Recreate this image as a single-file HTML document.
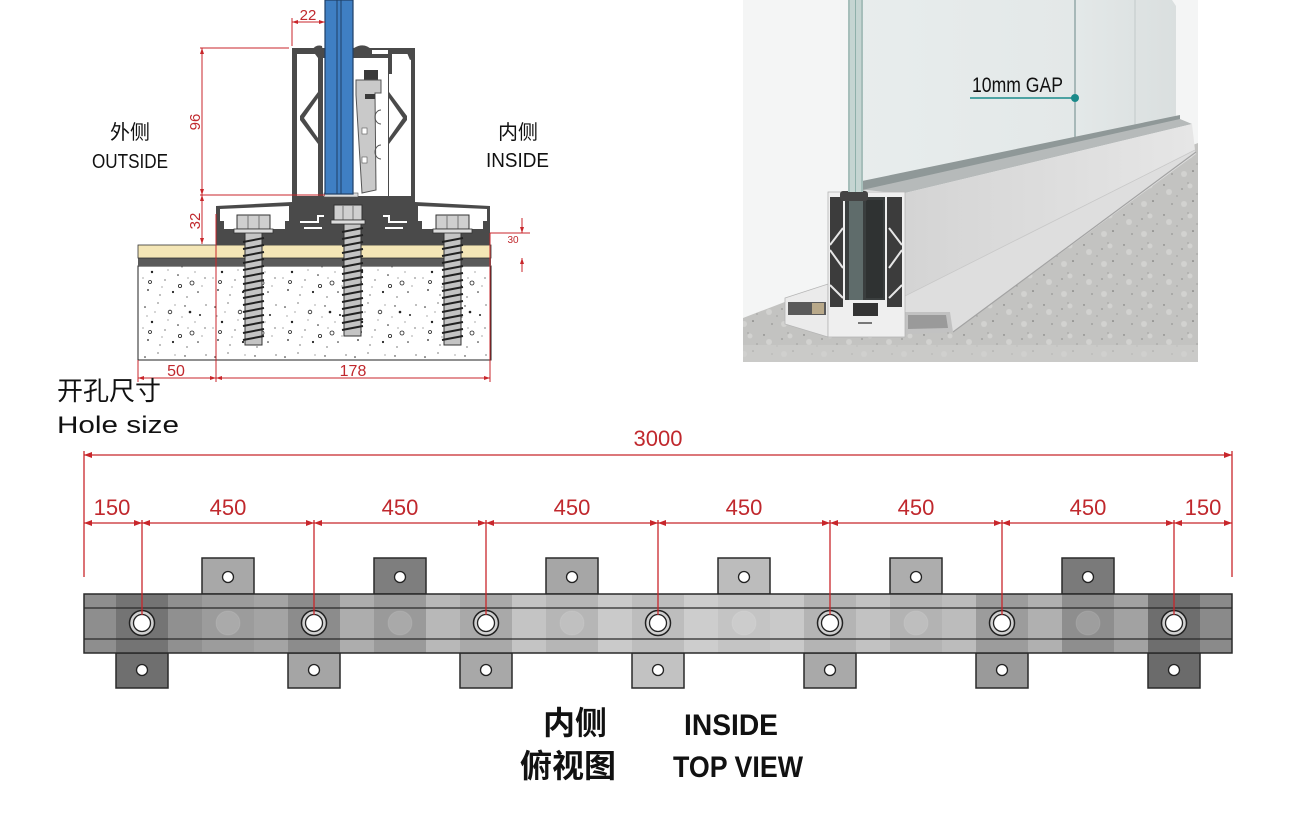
<!DOCTYPE html>
<html><head><meta charset="utf-8">
<style>
html,body{margin:0;padding:0;background:#fff;}
svg{display:block;}
</style></head>
<body>
<svg width="1305" height="816" viewBox="0 0 1305 816" xmlns="http://www.w3.org/2000/svg">
<defs>
  <pattern id="conc" width="70" height="50" patternUnits="userSpaceOnUse">
    <rect width="70" height="50" fill="#fff"/>
    <g fill="#222">
      <circle cx="5" cy="7" r="0.8"/><circle cx="18" cy="3" r="0.6"/><circle cx="45" cy="6" r="0.7"/>
      <circle cx="60" cy="15" r="1"/><circle cx="12" cy="22" r="1.2"/><circle cx="25" cy="30" r="0.6"/>
      <circle cx="38" cy="25" r="0.8"/><circle cx="65" cy="28" r="0.6"/><circle cx="8" cy="40" r="0.9"/>
      <circle cx="20" cy="45" r="0.6"/><circle cx="33" cy="42" r="1.1"/><circle cx="47" cy="47" r="0.6"/>
      <circle cx="58" cy="42" r="0.8"/><circle cx="3" cy="28" r="0.5"/><circle cx="42" cy="17" r="0.5"/>
      <circle cx="28" cy="20" r="0.5"/><circle cx="15" cy="12" r="0.5"/><circle cx="66" cy="5" r="0.6"/>
      <circle cx="55" cy="22" r="0.5"/><circle cx="50" cy="12" r="1.3"/>
      <circle cx="22" cy="37" r="0.5"/><circle cx="62" cy="36" r="0.5"/><circle cx="35" cy="5" r="0.5"/>
      <circle cx="7" cy="16" r="0.5"/><circle cx="48" cy="28" r="0.5"/>
    </g>
    <g fill="none" stroke="#222" stroke-width="0.8">
      <circle cx="30" cy="12" r="1.8"/><circle cx="52" cy="33" r="2"/><circle cx="10" cy="32" r="1.5"/><circle cx="40" cy="36" r="1.6"/>
    </g>
  </pattern>
  <pattern id="floor" width="40" height="30" patternUnits="userSpaceOnUse">
    <rect width="40" height="30" fill="#c3c3c1"/>
    <g fill="#d2d2d0">
      <circle cx="9" cy="12" r="3"/><circle cx="30" cy="6" r="2.5"/><circle cx="24" cy="24" r="3"/>
    </g>
    <g fill="#6e6e6c">
      <circle cx="4" cy="5" r="0.7"/><circle cx="22" cy="9" r="0.6"/><circle cx="33" cy="21" r="0.8"/>
      <circle cx="12" cy="24" r="0.6"/><circle cx="28" cy="3" r="0.5"/><circle cx="17" cy="16" r="0.5"/>
      <circle cx="37" cy="14" r="0.5"/>
    </g>
  </pattern>
  <linearGradient id="sideG" x1="0" y1="0" x2="1" y2="0">
    <stop offset="0" stop-color="#d4d4d4"/><stop offset="1" stop-color="#e6e6e6"/>
  </linearGradient>
  <linearGradient id="glassG" x1="0" y1="0" x2="1" y2="0">
    <stop offset="0" stop-color="#e8eded"/><stop offset="0.7" stop-color="#e3e8e8"/><stop offset="1" stop-color="#dadfdf"/>
  </linearGradient>
  <marker id="ar" viewBox="0 0 8 6" refX="8" refY="3" markerWidth="8" markerHeight="6" markerUnits="userSpaceOnUse" orient="auto-start-reverse">
    <path d="M0,0 L8,3 L0,6 z" fill="#c8262b"/>
  </marker>
  <marker id="as" viewBox="0 0 6 4" refX="6" refY="2" markerWidth="6" markerHeight="4" markerUnits="userSpaceOnUse" orient="auto-start-reverse">
    <path d="M0,0 L6,2 L0,4 z" fill="#c8262b"/>
  </marker>
</defs>

<rect width="1305" height="816" fill="#fff"/>

<!-- ================= TOP LEFT SECTION ================= -->
<g id="section">
  <rect x="138" y="266" width="353" height="94" fill="url(#conc)" stroke="#222" stroke-width="1"/>
  <rect x="138" y="258" width="353" height="8" fill="#5a5a5a"/>
  <rect x="138" y="245" width="353" height="13" fill="#f4e6b6" stroke="#333" stroke-width="0.8"/>

  <rect x="216" y="228" width="274" height="17" fill="#4a4a4a"/>
  <path d="M216,245 L216,206 L292,202 L292,245 Z" fill="#4a4a4a"/>
  <path d="M220,209 L289,206 L289,229 L220,229 Z" fill="#fff"/>
  <rect x="220" y="221" width="4" height="8" fill="#4a4a4a"/>
  <rect x="285" y="221" width="4" height="8" fill="#4a4a4a"/>
  <path d="M415,202 L490,206 L490,245 L415,245 Z" fill="#4a4a4a"/>
  <path d="M418,206 L487,209 L487,229 L418,229 Z" fill="#fff"/>
  <rect x="418" y="221" width="4" height="8" fill="#4a4a4a"/>
  <rect x="483" y="221" width="4" height="8" fill="#4a4a4a"/>

  <rect x="292" y="48" width="123" height="197" fill="#4a4a4a"/>
  <path d="M297,54 L318,54 L318,92 L300,116 L300,120 L318,144 L318,196 L297,196 Z" fill="#fff"/>
  <path d="M318,98 L318,138 L304,118 Z" fill="#fff"/>
  <path d="M389,54 L411,54 L411,196 L389,196 L389,144 L407,120 L407,116 L389,92 Z" fill="#fff"/>
  <path d="M389,98 L389,138 L403,118 Z" fill="#fff"/>
  <rect x="323" y="58" width="65" height="138" fill="#fff"/>
  <path d="M322,46 Q316,44 312,50 L318,58 L324,58 Z" fill="#4a4a4a"/>
  <path d="M354,48 Q364,42 372,50 L368,58 L354,58 Z" fill="#4a4a4a"/>
  <rect x="372" y="50" width="16" height="4" fill="#fff"/>
  <path d="M405,48 L415,48 L415,58 L410,60 Z" fill="#4a4a4a"/>
  <rect x="388" y="52" width="4" height="22" fill="#4a4a4a"/>
  <rect x="364" y="70" width="14" height="10" fill="#3a3a3a"/>
  <path d="M356,80 L381,80 L381,93 L375,93 L376,190 L362,193 L356,95 Z" fill="#c9c9c9" stroke="#555" stroke-width="1"/>
  <rect x="365" y="94" width="10" height="5" fill="#3a3a3a"/>
  <rect x="362" y="128" width="5" height="6" fill="#fff" stroke="#555" stroke-width="0.6"/>
  <rect x="362" y="157" width="5" height="6" fill="#fff" stroke="#555" stroke-width="0.6"/>
  <path d="M381,110 A6,7 0 0 0 381,124" fill="none" stroke="#555" stroke-width="1"/>
  <path d="M381,145 A6,7 0 0 0 381,159" fill="none" stroke="#555" stroke-width="1"/>
  <rect x="324" y="193" width="34" height="4" fill="#ddd" stroke="#555" stroke-width="0.6"/>
  <rect x="325" y="0" width="28" height="194" fill="#3f7fc3" stroke="#1f3f66" stroke-width="1.2"/>
  <line x1="337" y1="0" x2="337" y2="194" stroke="#1f3f66" stroke-width="1"/>
  <line x1="341" y1="0" x2="341" y2="194" stroke="#1f3f66" stroke-width="1"/>
  <path d="M300,222 L318,222 L318,216 L324,216 M304,228 L322,228" stroke="#fff" stroke-width="2" fill="none"/>
  <path d="M407,222 L389,222 L389,216 L383,216 M403,228 L385,228" stroke="#fff" stroke-width="2" fill="none"/>

  <!-- screws -->
  <rect x="245" y="232" width="17" height="113" fill="#c4c4c4" stroke="#333" stroke-width="1"/>
  <path d="M243,242 l21,-4 M243,249 l21,-4 M243,256 l21,-4 M243,263 l21,-4 M243,270 l21,-4 M243,277 l21,-4 M243,284 l21,-4 M243,291 l21,-4 M243,298 l21,-4 M243,305 l21,-4 M243,312 l21,-4 M243,319 l21,-4 M243,326 l21,-4 M243,333 l21,-4 M243,340 l21,-4" stroke="#222" stroke-width="2"/>
  <rect x="237" y="215" width="33" height="14" fill="#cfcfcf" stroke="#333" stroke-width="1"/>
  <line x1="248" y1="215" x2="248" y2="229" stroke="#777"/><line x1="259" y1="215" x2="259" y2="229" stroke="#777"/>
  <rect x="234" y="229" width="39" height="4" fill="#ddd" stroke="#333" stroke-width="0.8"/>
  <rect x="344" y="224" width="17" height="112" fill="#c4c4c4" stroke="#333" stroke-width="1"/>
  <path d="M342,232 l21,-4 M342,239 l21,-4 M342,246 l21,-4 M342,253 l21,-4 M342,260 l21,-4 M342,267 l21,-4 M342,274 l21,-4 M342,281 l21,-4 M342,288 l21,-4 M342,295 l21,-4 M342,302 l21,-4 M342,309 l21,-4 M342,316 l21,-4 M342,323 l21,-4 M342,330 l21,-4" stroke="#222" stroke-width="2"/>
  <rect x="334" y="205" width="28" height="15" fill="#cfcfcf" stroke="#333" stroke-width="1"/>
  <line x1="343" y1="205" x2="343" y2="220" stroke="#777"/><line x1="353" y1="205" x2="353" y2="220" stroke="#777"/>
  <rect x="331" y="220" width="34" height="4" fill="#ddd" stroke="#333" stroke-width="0.8"/>
  <rect x="444" y="232" width="17" height="113" fill="#c4c4c4" stroke="#333" stroke-width="1"/>
  <path d="M442,242 l21,-4 M442,249 l21,-4 M442,256 l21,-4 M442,263 l21,-4 M442,270 l21,-4 M442,277 l21,-4 M442,284 l21,-4 M442,291 l21,-4 M442,298 l21,-4 M442,305 l21,-4 M442,312 l21,-4 M442,319 l21,-4 M442,326 l21,-4 M442,333 l21,-4 M442,340 l21,-4" stroke="#222" stroke-width="2"/>
  <rect x="436" y="215" width="33" height="14" fill="#cfcfcf" stroke="#333" stroke-width="1"/>
  <line x1="447" y1="215" x2="447" y2="229" stroke="#777"/><line x1="458" y1="215" x2="458" y2="229" stroke="#777"/>
  <rect x="433" y="229" width="39" height="4" fill="#ddd" stroke="#333" stroke-width="0.8"/>

  <g stroke="#c8262b" stroke-width="1" fill="none">
    <line x1="292" y1="18" x2="292" y2="46"/>
    <line x1="292" y1="22" x2="325" y2="22" marker-start="url(#as)" marker-end="url(#as)"/>
    <line x1="200" y1="48" x2="289" y2="48"/>
    <line x1="200" y1="195" x2="325" y2="195"/>
    <line x1="202" y1="48" x2="202" y2="195" marker-start="url(#as)" marker-end="url(#as)"/>
    <line x1="202" y1="195" x2="202" y2="244" marker-start="url(#as)" marker-end="url(#as)"/>
    <line x1="490" y1="233" x2="530" y2="233"/>
    <line x1="522" y1="218" x2="522" y2="233" marker-end="url(#as)"/>
    <line x1="522" y1="272" x2="522" y2="258" marker-end="url(#as)"/>
    <line x1="138" y1="360" x2="138" y2="382"/>
    <line x1="216" y1="214" x2="216" y2="382"/>
    <line x1="490" y1="233" x2="490" y2="382"/>
    <line x1="138" y1="378" x2="216" y2="378" marker-start="url(#as)" marker-end="url(#as)"/>
    <line x1="216" y1="378" x2="490" y2="378" marker-start="url(#as)" marker-end="url(#as)"/>
  </g>
  <g fill="#c0282d" font-family="Liberation Sans, sans-serif">
    <text x="308" y="20" font-size="15" text-anchor="middle">22</text>
    <text transform="translate(200,122) rotate(-90)" font-size="15" text-anchor="middle">96</text>
    <text transform="translate(200,221) rotate(-90)" font-size="15" text-anchor="middle">32</text>
    <text x="513" y="243" font-size="10" text-anchor="middle">30</text>
    <text x="176" y="376" font-size="16" text-anchor="middle">50</text>
    <text x="353" y="376" font-size="16" text-anchor="middle">178</text>
  </g>

  <g fill="#111">
    <text x="130" y="139" font-size="20" text-anchor="middle" font-family="'Noto Sans CJK SC', sans-serif">外侧</text>
    <text x="92" y="168" font-size="20" textLength="76" lengthAdjust="spacingAndGlyphs" font-family="'Liberation Sans', sans-serif">OUTSIDE</text>
    <text x="518" y="139" font-size="20" text-anchor="middle" font-family="'Noto Sans CJK SC', sans-serif">内侧</text>
    <text x="486" y="167" font-size="20" textLength="63" lengthAdjust="spacingAndGlyphs" font-family="'Liberation Sans', sans-serif">INSIDE</text>
    <text x="57" y="400" font-size="26" font-family="'Noto Sans CJK SC', sans-serif">开孔尺寸</text>
    <text x="57" y="433" font-size="24" textLength="122" lengthAdjust="spacingAndGlyphs" font-family="'Liberation Sans', sans-serif">Hole size</text>
  </g>
</g>

<!-- ================= TOP RIGHT RENDER ================= -->
<g id="render">
  <rect x="743" y="0" width="455" height="362" fill="#f4f5f5"/>
  <polygon points="743,318 1198,143 1198,362 743,362" fill="url(#floor)"/>
  <rect x="743" y="345" width="455" height="17" fill="#cfcfcd" opacity="0.6"/>
  <polygon points="848,0 1172,0 1176,6 1176,120 862,190 848,190" fill="url(#glassG)"/>
  <line x1="1075" y1="0" x2="1075" y2="150" stroke="#6b8888" stroke-width="1"/>
  <line x1="1135" y1="0" x2="1135" y2="132" stroke="#c3c9c9" stroke-width="1"/>
  <polygon points="862,181 1180,115 1180,122 862,191" fill="#8f9898"/>
  <polygon points="862,190 905,193 1192,124 1180,119" fill="#b6baba"/>
  <!-- side face -->
  <polygon points="905,193 1192,124 1195,150 905,296" fill="url(#sideG)"/>
  <!-- right base flange top face -->
  <polygon points="905,296 1195,150 1196,154 953,332 905,332" fill="#dedede"/>
  <line x1="953" y1="332" x2="1196" y2="152" stroke="#a3a3a3" stroke-width="1.2"/>
  <line x1="905" y1="296" x2="1195" y2="150" stroke="#c8c8c8" stroke-width="0.8"/>
  <polygon points="905,312 950,312 953,332 905,334" fill="#c2c2c2"/>
  <polygon points="908,315 946,315 948,328 908,329" fill="#9a9a9a"/>
  <!-- front cross section -->
  <polygon points="785,298 828,284 828,337 785,324" fill="#ebebeb" stroke="#b5b5b5" stroke-width="0.8"/>
  <rect x="788" y="302" width="38" height="13" fill="#5a5a5a"/>
  <rect x="812" y="303" width="12" height="11" fill="#b9a98a"/>
  <rect x="828" y="192" width="77" height="145" fill="#efefef" stroke="#b5b5b5" stroke-width="0.8"/>
  <rect x="830" y="197" width="13" height="110" fill="#3c3c3c"/>
  <rect x="887" y="197" width="15" height="110" fill="#3c3c3c"/>
  <g stroke="#e6e6e6" stroke-width="2">
    <line x1="830" y1="245" x2="843" y2="228"/><line x1="830" y1="250" x2="843" y2="268"/>
    <line x1="830" y1="285" x2="843" y2="298"/>
    <line x1="902" y1="245" x2="889" y2="228"/><line x1="902" y1="250" x2="889" y2="268"/>
    <line x1="902" y1="285" x2="889" y2="298"/>
  </g>
  <rect x="845" y="197" width="40" height="103" fill="#3a3e3e"/>
  <rect x="849" y="190" width="14" height="110" fill="#5f6c6b"/>
  <rect x="866" y="200" width="17" height="98" fill="#2f3232"/>
  <rect x="840" y="191" width="28" height="10" rx="3" fill="#444"/>
  <rect x="853" y="303" width="25" height="13" fill="#333"/>
  <rect x="858" y="322" width="14" height="2" fill="#777"/>
  <rect x="848" y="0" width="15" height="192" fill="#c5d5d2"/>
  <line x1="849" y1="0" x2="849" y2="192" stroke="#86a6a1" stroke-width="1"/>
  <line x1="855.5" y1="0" x2="855.5" y2="192" stroke="#8fb0aa" stroke-width="1"/>
  <line x1="862" y1="0" x2="862" y2="192" stroke="#86a6a1" stroke-width="1"/>
  <text x="972" y="92" font-size="21" textLength="91" lengthAdjust="spacingAndGlyphs" fill="#111" font-family="'Liberation Sans', sans-serif">10mm GAP</text>
  <line x1="970" y1="98" x2="1075" y2="98" stroke="#1b8a8a" stroke-width="1.6"/>
  <circle cx="1075" cy="98" r="4" fill="#1b8a8a"/>
</g>

<!-- ================= BOTTOM TOP VIEW ================= -->
<g id="topview">
  <g stroke="#2a2a2a" stroke-width="1.5">
    <rect x="202" y="558" width="52" height="36" fill="#a8a8a8"/>
    <rect x="374" y="558" width="52" height="36" fill="#7e7e7e"/>
    <rect x="546" y="558" width="52" height="36" fill="#a6a6a6"/>
    <rect x="718" y="558" width="52" height="36" fill="#bcbcbc"/>
    <rect x="890" y="558" width="52" height="36" fill="#adadad"/>
    <rect x="1062" y="558" width="52" height="36" fill="#7a7a7a"/>
    <rect x="116" y="653" width="52" height="35" fill="#6f6f6f"/>
    <rect x="288" y="653" width="52" height="35" fill="#a5a5a5"/>
    <rect x="460" y="653" width="52" height="35" fill="#a8a8a8"/>
    <rect x="632" y="653" width="52" height="35" fill="#c2c2c2"/>
    <rect x="804" y="653" width="52" height="35" fill="#a9a9a9"/>
    <rect x="976" y="653" width="52" height="35" fill="#9a9a9a"/>
    <rect x="1148" y="653" width="52" height="35" fill="#6b6b6b"/>
  </g>
  <g>
    <rect x="84" y="594" width="32" height="59" fill="#8e8e8e"/>
    <rect x="116" y="594" width="52" height="59" fill="#747474"/>
    <rect x="168" y="594" width="34" height="59" fill="#909090"/>
    <rect x="202" y="594" width="52" height="59" fill="#9c9c9c"/>
    <rect x="254" y="594" width="34" height="59" fill="#a4a4a4"/>
    <rect x="288" y="594" width="52" height="59" fill="#8c8c8c"/>
    <rect x="340" y="594" width="34" height="59" fill="#adadad"/>
    <rect x="374" y="594" width="52" height="59" fill="#9a9a9a"/>
    <rect x="426" y="594" width="34" height="59" fill="#b8b8b8"/>
    <rect x="460" y="594" width="52" height="59" fill="#a9a9a9"/>
    <rect x="512" y="594" width="34" height="59" fill="#c4c4c4"/>
    <rect x="546" y="594" width="52" height="59" fill="#b6b6b6"/>
    <rect x="598" y="594" width="34" height="59" fill="#cacaca"/>
    <rect x="632" y="594" width="52" height="59" fill="#bdbdbd"/>
    <rect x="684" y="594" width="34" height="59" fill="#cdcdcd"/>
    <rect x="718" y="594" width="52" height="59" fill="#c4c4c4"/>
    <rect x="770" y="594" width="34" height="59" fill="#c9c9c9"/>
    <rect x="804" y="594" width="52" height="59" fill="#b4b4b4"/>
    <rect x="856" y="594" width="34" height="59" fill="#c2c2c2"/>
    <rect x="890" y="594" width="52" height="59" fill="#b3b3b3"/>
    <rect x="942" y="594" width="34" height="59" fill="#bcbcbc"/>
    <rect x="976" y="594" width="52" height="59" fill="#9c9c9c"/>
    <rect x="1028" y="594" width="34" height="59" fill="#b0b0b0"/>
    <rect x="1062" y="594" width="52" height="59" fill="#8e8e8e"/>
    <rect x="1114" y="594" width="34" height="59" fill="#a2a2a2"/>
    <rect x="1148" y="594" width="52" height="59" fill="#6e6e6e"/>
    <rect x="1200" y="594" width="32" height="59" fill="#8a8a8a"/>
  </g>
  <rect x="84" y="594" width="1148" height="59" fill="none" stroke="#2a2a2a" stroke-width="1.5"/>
  <line x1="84" y1="608" x2="1232" y2="608" stroke="#2a2a2a" stroke-width="1.3"/>
  <line x1="84" y1="639" x2="1232" y2="639" stroke="#2a2a2a" stroke-width="1.3"/>
  <g fill="#ffffff" fill-opacity="0.15" stroke="#ffffff" stroke-opacity="0.1">
    <circle cx="228" cy="623" r="12"/><circle cx="400" cy="623" r="12"/><circle cx="572" cy="623" r="12"/>
    <circle cx="744" cy="623" r="12"/><circle cx="916" cy="623" r="12"/><circle cx="1088" cy="623" r="12"/>
  </g>
  <g fill="#fff" stroke="#222" stroke-width="1.3">
    <circle cx="228" cy="577" r="5.5"/><circle cx="400" cy="577" r="5.5"/><circle cx="572" cy="577" r="5.5"/>
    <circle cx="744" cy="577" r="5.5"/><circle cx="916" cy="577" r="5.5"/><circle cx="1088" cy="577" r="5.5"/>
    <circle cx="142" cy="670" r="5.5"/><circle cx="314" cy="670" r="5.5"/><circle cx="486" cy="670" r="5.5"/>
    <circle cx="658" cy="670" r="5.5"/><circle cx="830" cy="670" r="5.5"/><circle cx="1002" cy="670" r="5.5"/>
    <circle cx="1174" cy="670" r="5.5"/>
  </g>
  <g stroke="#222">
    <g fill="#d0d0d0" stroke-width="1.5">
      <circle cx="142" cy="623" r="12.5"/><circle cx="314" cy="623" r="12.5"/><circle cx="486" cy="623" r="12.5"/>
      <circle cx="658" cy="623" r="12.5"/><circle cx="830" cy="623" r="12.5"/><circle cx="1002" cy="623" r="12.5"/>
      <circle cx="1174" cy="623" r="12.5"/>
    </g>
    <g fill="#fff" stroke-width="1.3">
      <circle cx="142" cy="623" r="8.5"/><circle cx="314" cy="623" r="8.5"/><circle cx="486" cy="623" r="8.5"/>
      <circle cx="658" cy="623" r="8.5"/><circle cx="830" cy="623" r="8.5"/><circle cx="1002" cy="623" r="8.5"/>
      <circle cx="1174" cy="623" r="8.5"/>
    </g>
  </g>
  <g stroke="#c8262b" stroke-width="1.3" fill="none">
    <line x1="84" y1="451" x2="84" y2="577"/>
    <line x1="1232" y1="451" x2="1232" y2="577"/>
    <line x1="84" y1="455" x2="1232" y2="455" marker-start="url(#ar)" marker-end="url(#ar)"/>
    <line x1="142" y1="520" x2="142" y2="615"/><line x1="314" y1="520" x2="314" y2="615"/>
    <line x1="486" y1="520" x2="486" y2="615"/><line x1="658" y1="520" x2="658" y2="615"/>
    <line x1="830" y1="520" x2="830" y2="615"/><line x1="1002" y1="520" x2="1002" y2="615"/>
    <line x1="1174" y1="520" x2="1174" y2="615"/>
    <line x1="84" y1="523" x2="142" y2="523" marker-start="url(#ar)" marker-end="url(#ar)"/>
    <line x1="142" y1="523" x2="314" y2="523" marker-start="url(#ar)" marker-end="url(#ar)"/>
    <line x1="314" y1="523" x2="486" y2="523" marker-start="url(#ar)" marker-end="url(#ar)"/>
    <line x1="486" y1="523" x2="658" y2="523" marker-start="url(#ar)" marker-end="url(#ar)"/>
    <line x1="658" y1="523" x2="830" y2="523" marker-start="url(#ar)" marker-end="url(#ar)"/>
    <line x1="830" y1="523" x2="1002" y2="523" marker-start="url(#ar)" marker-end="url(#ar)"/>
    <line x1="1002" y1="523" x2="1174" y2="523" marker-start="url(#ar)" marker-end="url(#ar)"/>
    <line x1="1174" y1="523" x2="1232" y2="523" marker-start="url(#ar)" marker-end="url(#ar)"/>
  </g>
  <g fill="#c0282d" font-family="'Liberation Sans', sans-serif" font-size="22" text-anchor="middle">
    <text x="658" y="446">3000</text>
    <text x="112" y="515">150</text>
    <text x="228" y="515">450</text>
    <text x="400" y="515">450</text>
    <text x="572" y="515">450</text>
    <text x="744" y="515">450</text>
    <text x="916" y="515">450</text>
    <text x="1088" y="515">450</text>
    <text x="1203" y="515">150</text>
  </g>
  <g fill="#111">
    <text x="543" y="734" font-size="32" font-weight="bold" font-family="'Noto Sans CJK SC', sans-serif">内侧</text>
    <text x="684" y="735" font-size="30" font-weight="bold" textLength="94" lengthAdjust="spacingAndGlyphs" font-family="'Liberation Sans', sans-serif">INSIDE</text>
    <text x="520" y="777" font-size="32" font-weight="bold" font-family="'Noto Sans CJK SC', sans-serif">俯视图</text>
    <text x="673" y="777" font-size="30" font-weight="bold" textLength="130" lengthAdjust="spacingAndGlyphs" font-family="'Liberation Sans', sans-serif">TOP VIEW</text>
  </g>
</g>
</svg>
</body></html>
